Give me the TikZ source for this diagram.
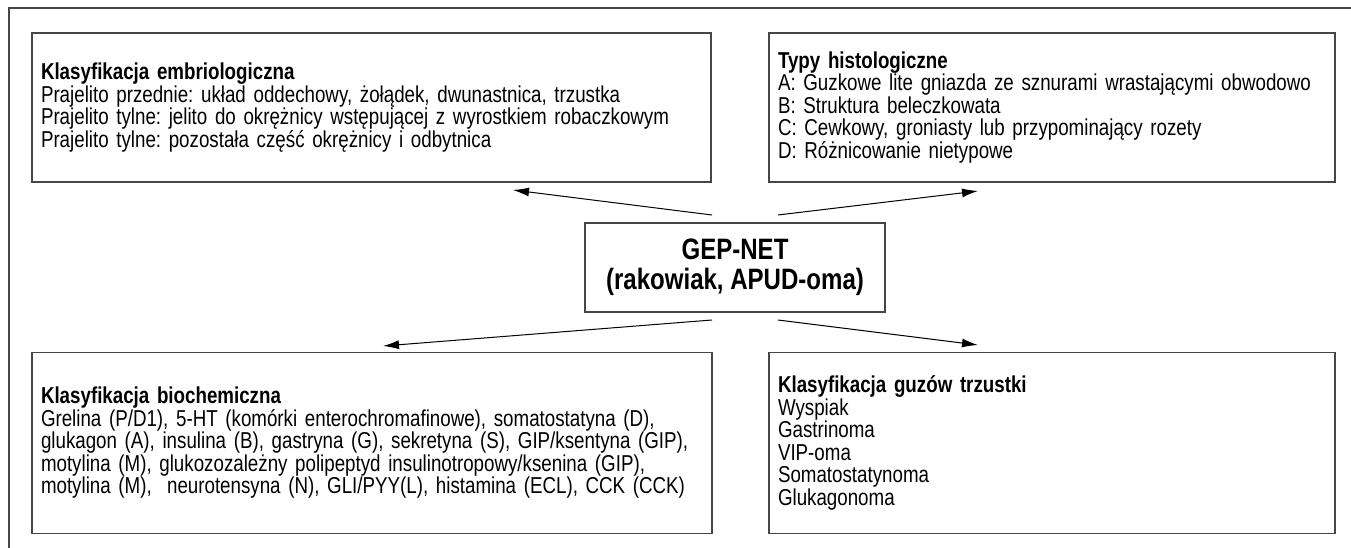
\documentclass[tikz,border=0pt]{standalone}
\usepackage{fontspec}
\setmainfont{Liberation Sans}[FakeStretch=0.815]
\usetikzlibrary{arrows.meta}
\definecolor{linegray}{RGB}{70,70,70}
\begin{document}
\frenchspacing
\begin{tikzpicture}[x=1pt,y=-1pt,
  box/.style={draw=linegray, line width=1.3pt, inner xsep=9pt, inner ysep=0pt,
    align=left, font=\fontsize{23}{22.5}\selectfont, anchor=center},
  mainbox/.style={draw=linegray, line width=1.3pt, inner sep=0pt, align=center,
    font=\fontsize{29.5}{30}\selectfont\bfseries, minimum width=300pt, minimum height=89pt},
  conn/.style={line width=1pt, -{Latex[length=16pt,width=9pt]}}]
\useasboundingbox (0,0) rectangle (1351,548);
\draw[linegray, line width=1.2pt] (9,548) -- (9,8) -- (1351,8);

\node[box, text width=661pt, minimum height=149pt] (emb) at (371.5,107.5)
 {\textbf{Klasyfikacja embriologiczna}\\
  Prajelito przednie: układ oddechowy, żołądek, dwunastnica, trzustka\\
  Prajelito tylne: jelito do okrężnicy wstępującej z wyrostkiem robaczkowym\\
  Prajelito tylne: pozostała część okrężnicy i odbytnica};

\node[box, text width=548pt, minimum height=149pt] (hist) at (1052,107.5)
 {\textbf{Typy histologiczne}\\
  A: Guzkowe lite gniazda ze sznurami wrastającymi obwodowo\\
  B: Struktura beleczkowata\\
  C: Cewkowy, groniasty lub przypominający rozety\\
  D: Różnicowanie nietypowe};

\node[mainbox] (gep) at (735,267.5) {GEP-NET\\(rakowiak, APUD-oma)};

\node[box, text width=662pt, minimum height=181pt] (bio) at (372,443)
 {\textbf{Klasyfikacja biochemiczna}\\
  Grelina (P/D1), 5-HT (komórki enterochromafinowe), somatostatyna (D),\\
  glukagon (A), insulina (B), gastryna (G), sekretyna (S), GIP/ksentyna (GIP),\\
  motylina (M), glukozozależny polipeptyd insulinotropowy/ksenina (GIP),\\
  motylina (M),\ \ neurotensyna (N), GLI/PYY(L), histamina (ECL), CCK (CCK)};

\node[box, text width=548pt, minimum height=181pt] (panc) at (1052,443)
 {\textbf{Klasyfikacja guzów trzustki}\\
  Wyspiak\\
  Gastrinoma\\
  VIP-oma\\
  Somatostatynoma\\
  Glukagonoma};

\coordinate (s1) at (712,215);
\coordinate (e1) at (513,190);
\coordinate (s2) at (778,215);
\coordinate (e2) at (978,191);
\coordinate (s3) at (712,320);
\coordinate (e3) at (383,346);
\coordinate (s4) at (778,320);
\coordinate (e4) at (978,345);
\draw[conn] (s1) -- (e1);
\draw[conn] (s2) -- (e2);
\draw[conn] (s3) -- (e3);
\draw[conn] (s4) -- (e4);
\end{tikzpicture}
\end{document}
